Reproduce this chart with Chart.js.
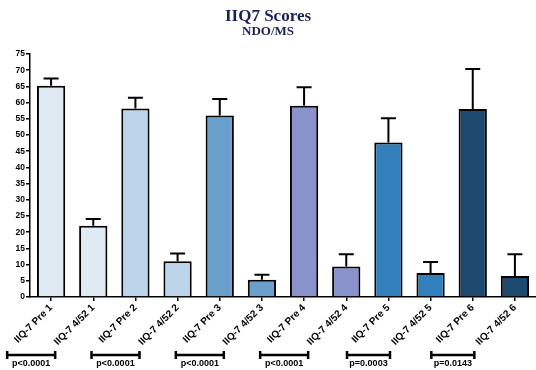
<!DOCTYPE html>
<html>
<head>
<meta charset="utf-8">
<script src="https://cdn.jsdelivr.net/npm/chart.js@4/dist/chart.umd.min.js"></script>
<style>
  html, body { margin: 0; padding: 0; background: #ffffff; }
  #wrap { width: 536px; height: 370px; }
</style>
</head>
<body>
<div id="wrap"><canvas id="chart" width="536" height="370"></canvas></div>
<script>
// IIQ-7 scores before (Pre) and after (4/52) treatment, six groups
const categories = [
  'IIQ-7 Pre 1', 'IIQ-7 4/52 1',
  'IIQ-7 Pre 2', 'IIQ-7 4/52 2',
  'IIQ-7 Pre 3', 'IIQ-7 4/52 3',
  'IIQ-7 Pre 4', 'IIQ-7 4/52 4',
  'IIQ-7 Pre 5', 'IIQ-7 4/52 5',
  'IIQ-7 Pre 6', 'IIQ-7 4/52 6'
];
const means = [65.2, 22.0, 58.2, 11.0, 56.0, 5.3, 59.0, 9.4, 47.7, 7.4, 58.0, 6.5];
const errorTops = [67.4, 24.1, 61.5, 13.4, 61.1, 6.9, 64.7, 13.2, 55.2, 10.8, 70.4, 13.2];
const barColors = [
  '#dfeaf3', '#dfeaf3',
  '#bdd5ea', '#bdd5ea',
  '#6ba0cc', '#6ba0cc',
  '#8a92cc', '#8a92cc',
  '#3180bb', '#3180bb',
  '#1d4a6e', '#1d4a6e'
];
const pValues = ['p<0.0001', 'p<0.0001', 'p<0.0001', 'p<0.0001', 'p=0.0003', 'p=0.0143'];
const yTicks = [0, 5, 10, 15, 20, 25, 30, 35, 40, 45, 50, 55, 60, 65, 70, 75];

// Upper error whiskers (mean to mean + error) with caps
const errorBarPlugin = {
  id: 'errorBars',
  afterDatasetsDraw(chart) {
    const ctx = chart.ctx;
    const meta = chart.getDatasetMeta(0);
    const y = chart.scales.y;
    ctx.save();
    ctx.strokeStyle = '#000000';
    ctx.lineWidth = 2;
    meta.data.forEach((bar, i) => {
      const top = y.getPixelForValue(errorTops[i]);
      const base = y.getPixelForValue(means[i]);
      ctx.beginPath();
      ctx.moveTo(bar.x, base);
      ctx.lineTo(bar.x, top);
      ctx.moveTo(bar.x - 7.5, top);
      ctx.lineTo(bar.x + 7.5, top);
      ctx.stroke();
    });
    ctx.restore();
  }
};

// Significance brackets with p-values under each Pre / 4/52 pair
const pairBracketPlugin = {
  id: 'pairBrackets',
  afterDraw(chart) {
    const ctx = chart.ctx;
    const x = chart.scales.x;
    const lineY = 355;
    ctx.save();
    ctx.strokeStyle = '#000000';
    ctx.fillStyle = '#000000';
    ctx.font = 'bold 9px "Liberation Sans", Arial, sans-serif';
    ctx.textAlign = 'center';
    ctx.textBaseline = 'middle';
    pValues.forEach((p, k) => {
      const a = x.getPixelForValue(2 * k);
      const b = x.getPixelForValue(2 * k + 1);
      const c = (a + b) / 2 - 41;
      const half = k >= 4 ? 21.5 : 24;
      ctx.lineWidth = 2.5;
      ctx.beginPath();
      ctx.moveTo(c - half, lineY);
      ctx.lineTo(c + half, lineY);
      ctx.stroke();
      ctx.lineWidth = 2.5;
      ctx.beginPath();
      ctx.moveTo(c - half, lineY - 4);
      ctx.lineTo(c - half, lineY + 4);
      ctx.moveTo(c + half, lineY - 4);
      ctx.lineTo(c + half, lineY + 4);
      ctx.stroke();
      ctx.fillText(p, c, lineY + 8.5);
    });
    ctx.restore();
  }
};

new Chart(document.getElementById('chart'), {
  type: 'bar',
  data: {
    labels: categories,
    datasets: [{
      data: means,
      backgroundColor: barColors,
      borderColor: '#000000',
      borderWidth: 2,
      borderSkipped: 'bottom',
      categoryPercentage: 1.0,
      barPercentage: 0.67
    }]
  },
  options: {
    responsive: false,
    animation: false,
    devicePixelRatio: 1,
    layout: { padding: { left: 0, right: 0, top: 0, bottom: 0 } },
    plugins: {
      legend: { display: false },
      tooltip: { enabled: false },
      title: {
        display: true,
        text: 'IIQ7 Scores',
        color: '#1b1f55',
        font: { family: '"Liberation Serif", "Times New Roman", serif', size: 17, weight: 'bold', lineHeight: 1.0 },
        padding: { top: 8, bottom: 0 }
      },
      subtitle: {
        display: true,
        text: 'NDO/MS',
        color: '#1b1f55',
        font: { family: '"Liberation Serif", "Times New Roman", serif', size: 13, weight: 'bold', lineHeight: 1.0 },
        padding: { top: 0, bottom: 16 }
      }
    },
    scales: {
      x: {
        offset: true,
        border: { color: '#000000', width: 1.5 },
        grid: { display: true, drawOnChartArea: false, offset: false, color: '#000000', tickLength: 4, lineWidth: 1.5 },
        ticks: {
          color: '#000000',
          maxRotation: 45,
          minRotation: 45,
          padding: 1,
          font: { family: '"Liberation Sans", Arial, sans-serif', size: 10, weight: 'bold' }
        },
        afterFit(scale) { scale.height = 73; }
      },
      y: {
        min: 0,
        max: 75,
        afterBuildTicks(scale) { scale.ticks = yTicks.map(v => ({ value: v })); },
        border: { color: '#000000', width: 1.5 },
        grid: { display: true, drawOnChartArea: false, color: '#000000', tickLength: 4, lineWidth: 1.5 },
        ticks: {
          color: '#000000',
          padding: 1,
          font: { family: '"Liberation Sans", Arial, sans-serif', size: 8.5, weight: 'bold' }
        },
        afterFit(scale) { scale.width = 30; }
      }
    }
  },
  plugins: [errorBarPlugin, pairBracketPlugin]
});
</script>
</body>
</html>
